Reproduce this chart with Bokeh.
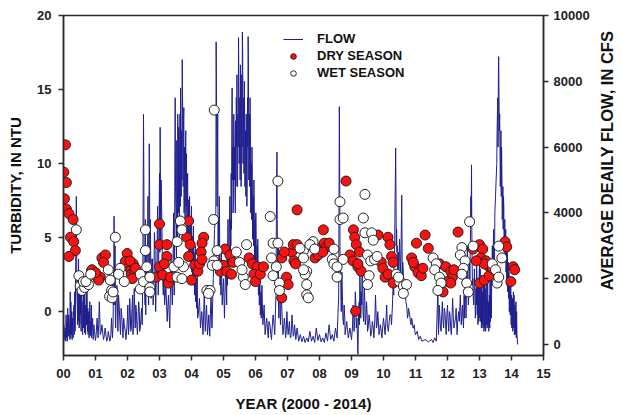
import math
from bokeh.plotting import figure
from bokeh.layouts import row
from bokeh.models import Range1d, LinearAxis, FixedTicker, Legend, LegendItem, Label
from bokeh.embed import file_html
from bokeh.resources import INLINE

# ---------------- data ----------------
year_ticks = list(range(0, 16))
year_labels = ["%02d" % t for t in year_ticks]
turb_ticks = [0, 5, 10, 15, 20]
flow_ticks = [0, 2000, 4000, 6000, 8000, 10000]
right_title = "AVERAGE DEAILY FLOW, IN CFS"

# daily flow, main readings (year after 2000, cfs)
flow_year = [
    0.00, 0.03, 0.05, 0.08, 0.10, 0.13, 0.15, 0.18, 0.20, 0.23, 0.25, 0.28, 0.30, 0.33, 0.36, 0.40,
    0.42, 0.44, 0.47, 0.49, 0.52, 0.55, 0.58, 0.60, 0.63, 0.66, 0.70, 0.73, 0.75, 0.78, 0.80, 0.83,
    0.86, 0.90, 0.93, 0.97, 1.00, 1.05, 1.08, 1.12, 1.15, 1.20, 1.25, 1.30, 1.35, 1.40, 1.45, 1.50,
    1.53, 1.58, 1.60, 1.63, 1.67, 1.70, 1.74, 1.78, 1.82, 1.86, 1.90, 1.95, 2.00, 2.03, 2.07, 2.10,
    2.14, 2.17, 2.21, 2.24, 2.28, 2.31, 2.35, 2.38, 2.42, 2.46, 2.50, 2.52, 2.55, 2.58, 2.60, 2.63,
    2.65, 2.68, 2.70, 2.72, 2.75, 2.78, 2.82, 2.86, 2.90, 2.94, 2.98, 3.02, 3.04, 3.07, 3.10, 3.13,
    3.16, 3.20, 3.24, 3.28, 3.32, 3.36, 3.40, 3.44, 3.47, 3.49, 3.52, 3.55, 3.58, 3.61, 3.64, 3.67,
    3.71, 3.73, 3.76, 3.79, 3.82, 3.85, 3.88, 3.91, 3.94, 3.97, 4.00, 4.03, 4.06, 4.09, 4.12, 4.15,
    4.18, 4.21, 4.25, 4.28, 4.32, 4.36, 4.40, 4.43, 4.47, 4.50, 4.54, 4.57, 4.61, 4.64, 4.68, 4.72,
    4.77, 4.79, 4.82, 4.84, 4.87, 4.90, 4.93, 4.96, 5.00, 5.03, 5.07, 5.10, 5.14, 5.17, 5.20, 5.23,
    5.27, 5.30, 5.33, 5.36, 5.40, 5.43, 5.47, 5.50, 5.53, 5.56, 5.59, 5.62, 5.65, 5.68, 5.71, 5.74,
    5.77, 5.80, 5.83, 5.86, 5.89, 5.92, 5.95, 5.98, 6.01, 6.04, 6.07, 6.10, 6.13, 6.16, 6.20, 6.23,
    6.27, 6.30, 6.35, 6.40, 6.45, 6.50, 6.55, 6.60, 6.64, 6.67, 6.69, 6.72, 6.75, 6.78, 6.82, 6.86,
    6.90, 6.94, 6.98, 7.02, 7.06, 7.10, 7.14, 7.18, 7.22, 7.26, 7.30, 7.35, 7.40, 7.45, 7.50, 7.55,
    7.60, 7.65, 7.70, 7.75, 7.80, 7.85, 7.90, 7.95, 8.00, 8.05, 8.10, 8.15, 8.20, 8.25, 8.30, 8.35,
    8.40, 8.45, 8.50, 8.55, 8.60, 8.62, 8.64, 8.67, 8.70, 8.73, 8.77, 8.80, 8.85, 8.90, 8.95, 9.00,
    9.05, 9.08, 9.12, 9.15, 9.20, 9.22, 9.26, 9.29, 9.33, 9.36, 9.40, 9.43, 9.47, 9.50, 9.55, 9.60,
    9.65, 9.70, 9.75, 9.78, 9.82, 9.86, 9.90, 9.95, 10.00, 10.05, 10.10, 10.15, 10.20, 10.25, 10.30, 10.35,
    10.38, 10.41, 10.45, 10.50, 10.54, 10.57, 10.60, 10.63, 10.66, 10.70, 10.73, 10.77, 10.80, 10.84, 10.88, 10.92,
    10.96, 11.00, 11.05, 11.10, 11.15, 11.20, 11.30, 11.40, 11.50, 11.55, 11.60, 11.65, 11.70, 11.72, 11.76, 11.80,
    11.84, 11.88, 11.92, 11.96, 12.00, 12.04, 12.08, 12.12, 12.16, 12.20, 12.25, 12.30, 12.35, 12.40, 12.43, 12.47,
    12.50, 12.55, 12.58, 12.62, 12.65, 12.70, 12.75, 12.77, 12.80, 12.84, 12.88, 12.92, 12.96, 13.00, 13.04, 13.08,
    13.12, 13.16, 13.20, 13.25, 13.30, 13.35, 13.40, 13.45, 13.50, 13.55, 13.60, 13.63, 13.66, 13.69, 13.72, 13.75,
    13.78, 13.82, 13.86, 13.90, 13.94, 13.98, 14.02, 14.06, 14.10, 14.14, 14.17, 14.19,
]
flow_cfs = [
    150, 300, 120, 900, 200, 1100, 250, 700, 150, 1300, 300, 800, 200, 1200, 400, 4500,
    1500, 600, 2600, 500, 1800, 400, 1200, 300, 1500, 350, 900, 2300, 400, 700, 200, 1000,
    250, 600, 150, 400, 120, 800, 200, 1300, 300, 600, 150, 500, 100, 400, 100, 800,
    200, 3900, 1200, 500, 1800, 400, 1200, 300, 900, 200, 600, 150, 900, 300, 1400, 400,
    1100, 300, 1700, 500, 1000, 300, 1300, 400, 800, 600, 7000, 2500, 1200, 2800, 1500, 3300,
    1800, 6100, 2500, 3200, 1800, 2600, 1500, 3000, 2000, 4200, 3000, 6600, 3000, 4000, 2000, 2800,
    1200, 1800, 700, 1500, 500, 2600, 1200, 4000, 2500, 7500, 3500, 5000, 6000, 4500, 7000, 5500,
    8660, 6000, 7200, 5000, 6500, 4000, 5200, 3500, 4500, 3000, 4200, 2500, 3600, 2000, 3000, 1500,
    2200, 900, 1400, 500, 1000, 300, 1600, 400, 1200, 300, 900, 250, 1500, 500, 2000, 3500,
    9200, 5500, 7000, 3500, 4500, 2000, 2800, 1200, 2000, 800, 2500, 1200, 3800, 2000, 4500, 3000,
    7800, 4000, 6500, 4500, 7500, 5000, 9330, 6000, 8500, 5500, 9500, 6500, 8000, 5500, 7000, 5000,
    9360, 6000, 7500, 4500, 6000, 3500, 5000, 2800, 4000, 2200, 3200, 1500, 2500, 1000, 1800, 600,
    1200, 300, 800, 200, 600, 150, 900, 300, 1500, 5850, 2500, 1200, 2000, 600, 1200, 300,
    800, 200, 1000, 300, 700, 200, 900, 250, 600, 150, 500, 100, 300, 80, 250, 60,
    200, 80, 400, 100, 250, 60, 500, 120, 300, 80, 200, 60, 350, 100, 600, 150,
    300, 100, 500, 200, 1500, 7230, 3000, 1500, 2200, 800, 1200, 300, 700, 200, 500, 150,
    1200, 400, 1600, 500, -300, 900, 2200, 800, 2500, 1000, 1800, 600, 1300, 400, 900, 250,
    700, 200, 1500, 500, 1000, 300, 600, 200, 800, 300, 1200, 400, 900, 600, 1800, 3000,
    5970, 3500, 2500, 3200, 2200, 4540, 2500, 1800, 2000, 1300, 1100, 900, 1000, 700, 800, 500,
    600, 300, 400, 150, 250, 100, 150, 80, 150, 60, 200, 100, 1700, 300, 900, 400,
    1300, 500, 1000, 300, 1200, 400, 900, 300, 1400, 500, 800, 300, 1000, 1500, 600, 1200,
    500, 2000, 800, 3000, 1200, 2000, 5460, 2500, 1500, 2300, 1000, 2000, 800, 2400, 1000, 2000,
    700, 1800, 600, 2200, 900, 1500, 3000, 2000, 4500, 6500, 8750, 7000, 5500, 6000, 4000, 4500,
    3000, 3500, 2000, 2500, 1200, 1800, 700, 1600, 400, 1300, 300, 0,
]

# extra daily flow readings in the busy periods
flow_year_b = [
    0.01, 0.04, 0.06, 0.07, 0.11, 0.12, 0.16, 0.19, 0.21, 0.22, 0.26, 0.27, 0.31, 0.34, 0.35, 0.37,
    0.38, 0.39, 0.41, 0.43, 0.45, 0.46, 0.48, 0.50, 0.51, 0.53, 0.54, 0.56, 0.57, 0.59, 0.61, 0.62,
    0.64, 0.65, 0.67, 0.68, 0.69, 0.71, 0.72, 0.74, 0.76, 0.77, 0.79, 0.81, 0.82, 0.84, 0.85, 0.87,
    0.88, 0.91, 0.95, 1.02, 1.10, 1.18, 1.28, 1.38, 1.48, 1.55, 1.56, 1.57, 1.59, 1.61, 1.62, 1.65,
    1.69, 1.72, 1.76, 1.80, 1.84, 1.88, 1.93, 1.98, 2.01, 2.05, 2.09, 2.12, 2.16, 2.19, 2.23, 2.26,
    2.29, 2.33, 2.37, 2.40, 2.44, 2.48, 2.51, 2.53, 2.56, 2.57, 2.61, 2.64, 2.66, 2.69, 2.71, 2.74,
    2.76, 2.80, 2.84, 2.88, 2.92, 2.96, 3.00, 3.01, 3.05, 3.09, 3.12, 3.42, 3.46, 3.48, 3.50, 3.53,
    3.54, 3.56, 3.57, 3.59, 3.60, 3.62, 3.63, 3.65, 3.66, 3.68, 3.69, 3.70, 3.72, 3.74, 3.75, 3.77,
    3.78, 3.80, 3.81, 3.83, 3.84, 3.86, 3.87, 3.89, 3.90, 3.92, 3.93, 3.95, 3.96, 3.98, 3.99, 4.01,
    4.02, 4.04, 4.05, 4.07, 4.08, 4.10, 4.11, 4.13, 4.14, 4.16, 4.17, 4.19, 4.76, 4.78, 4.80, 4.81,
    4.83, 4.85, 4.86, 4.88, 4.89, 4.91, 4.92, 5.11, 5.12, 5.15, 5.18, 5.21, 5.22, 5.24, 5.25, 5.26,
    5.28, 5.29, 5.31, 5.32, 5.34, 5.35, 5.37, 5.38, 5.39, 5.41, 5.42, 5.44, 5.45, 5.46, 5.48, 5.49,
    5.51, 5.52, 5.54, 5.55, 5.57, 5.58, 5.60, 5.61, 5.63, 5.64, 5.66, 5.67, 5.69, 5.70, 5.72, 5.73,
    5.75, 5.76, 5.78, 5.79, 5.81, 5.82, 5.84, 5.85, 5.87, 5.88, 5.90, 5.91, 5.93, 5.94, 5.96, 5.97,
    5.99, 6.00, 6.02, 6.03, 6.05, 6.06, 6.08, 6.09, 6.11, 6.12, 6.14, 6.15, 6.17, 6.18, 6.32, 6.38,
    6.42, 6.48, 6.52, 6.58, 6.62, 6.65, 6.66, 6.68, 6.70, 6.71, 6.73, 6.74, 6.77, 6.80, 6.84, 6.88,
    6.92, 6.96, 7.00, 7.04, 7.08, 7.12, 7.16, 7.20, 8.61, 8.63, 8.65, 8.66, 8.68, 8.69, 8.72, 8.75,
    8.79, 9.03, 9.07, 9.10, 9.14, 9.17, 9.24, 9.25, 9.28, 9.31, 9.32, 9.35, 9.38, 9.42, 9.45, 9.49,
    9.52, 9.58, 9.63, 9.68, 9.73, 9.77, 9.80, 9.84, 9.88, 9.93, 9.98, 10.03, 10.08, 10.12, 10.18, 10.23,
    10.28, 10.32, 10.33, 10.36, 10.37, 10.39, 10.40, 10.42, 10.43, 10.44, 10.47, 10.48, 10.52, 10.55, 10.56, 10.58,
    10.59, 10.62, 10.65, 10.68, 10.72, 10.75, 10.78, 10.82, 10.86, 10.90, 10.94, 10.98, 11.71, 11.74, 11.78, 11.82,
    11.86, 11.90, 11.94, 11.98, 12.02, 12.06, 12.10, 12.14, 12.18, 12.22, 12.27, 12.32, 12.37, 12.42, 12.45, 12.48,
    12.52, 12.53, 12.57, 12.60, 12.61, 12.64, 12.67, 12.68, 12.72, 12.73, 12.74, 12.76, 12.78, 12.79, 12.82, 12.83,
    12.86, 12.87, 12.89, 12.90, 12.91, 12.93, 12.94, 12.95, 12.97, 12.98, 12.99, 13.01, 13.02, 13.03, 13.05, 13.06,
    13.07, 13.09, 13.10, 13.11, 13.13, 13.14, 13.15, 13.17, 13.18, 13.19, 13.21, 13.22, 13.23, 13.24, 13.26, 13.27,
    13.28, 13.29, 13.31, 13.32, 13.33, 13.34, 13.36, 13.37, 13.38, 13.42, 13.44, 13.47, 13.48, 13.52, 13.54, 13.57,
    13.58, 13.59, 13.61, 13.62, 13.64, 13.65, 13.67, 13.68, 13.70, 13.71, 13.73, 13.74, 13.76, 13.77, 13.79, 13.80,
    13.81, 13.83, 13.84, 13.85, 13.87, 13.88, 13.89, 13.91, 13.92, 13.93, 13.95, 13.96, 13.97, 13.99, 14.00, 14.01,
    14.03, 14.04, 14.05, 14.07, 14.08, 14.09, 14.11, 14.12, 14.13, 14.15, 14.16, 14.18,
]
flow_cfs_b = [
    600, 200, 500, 100, 700, 100, 900, 300, 1600, 200, 1000, 150, 900, 300, 1600, 600,
    2500, 3200, 3000, 1200, 2000, 700, 1000, 2200, 600, 900, 1600, 700, 1900, 400, 1300, 500,
    700, 1700, 500, 1200, 300, 1600, 600, 1400, 1100, 300, 1000, 500, 1300, 300, 700, 1200,
    200, 800, 600, 300, 600, 400, 300, 200, 300, 600, 2000, 1200, 2500, 3000, 900, 1500,
    900, 1500, 700, 1100, 500, 800, 400, 500, 1200, 600, 900, 500, 1500, 600, 900, 1200,
    600, 800, 1000, 500, 1100, 2500, 5200, 1800, 3800, 900, 2400, 4500, 1200, 4800, 3800, 1400,
    2600, 1200, 3400, 1000, 2600, 1500, 5200, 2800, 5000, 2600, 1500, 2200, 1500, 5500, 4800, 2500,
    6200, 3000, 7000, 4000, 6600, 3200, 5800, 4200, 7800, 4500, 6500, 5000, 7500, 4800, 6800, 4000,
    6000, 3800, 5500, 4200, 5800, 3200, 4800, 3000, 4400, 2800, 3900, 2600, 3800, 2400, 3500, 2200,
    3300, 2000, 3000, 1800, 2800, 1500, 2400, 1300, 2000, 1100, 1700, 800, 4000, 8000, 4200, 6000,
    2800, 3800, 2500, 3200, 1800, 2500, 1500, 2800, 1800, 2600, 3400, 2500, 3800, 5200, 3500, 6500,
    5000, 6000, 4500, 7000, 5000, 6000, 4000, 6800, 4800, 6000, 8200, 4800, 7000, 6000, 8000, 5500,
    7500, 5000, 7000, 4800, 8200, 6000, 8800, 5500, 7500, 5200, 7000, 4800, 6500, 4500, 6000, 4200,
    7500, 6000, 8500, 5000, 7000, 4800, 6500, 4000, 5500, 3800, 5000, 3200, 4500, 3000, 4200, 2600,
    3800, 2400, 3300, 2000, 3000, 1800, 2600, 1500, 2300, 1200, 2000, 900, 1600, 800, 500, 400,
    700, 300, 500, 600, 900, 3500, 4800, 3800, 1800, 3000, 800, 1500, 1000, 1500, 600, 500,
    600, 400, 600, 500, 300, 400, 600, 300, 4500, 5500, 2200, 2500, 1000, 1800, 1300, 600,
    800, 500, 800, 700, 1100, 800, 1300, 600, 1500, 1600, 1200, 1800, 700, 1200, 800, 900,
    500, 600, 400, 500, 800, 900, 600, 700, 400, 400, 600, 500, 800, 600, 700, 900,
    1200, 1500, 2500, 4200, 5000, 4500, 3000, 2800, 3000, 2000, 2800, 2000, 2600, 3000, 3800, 3000,
    2000, 2200, 1500, 1600, 1200, 800, 1100, 900, 600, 700, 500, 400, 800, 1200, 500, 900,
    700, 1100, 600, 900, 700, 1000, 500, 800, 900, 600, 1100, 700, 700, 900, 1000, 800,
    1500, 800, 1200, 2400, 1500, 2000, 1500, 2500, 3500, 4500, 3800, 3500, 1800, 2000, 1200, 1800,
    1500, 800, 1700, 1200, 2500, 900, 2000, 600, 1800, 700, 2200, 800, 2300, 700, 1800, 500,
    2100, 600, 1600, 500, 1900, 400, 1500, 500, 1700, 400, 2000, 600, 1400, 500, 1800, 600,
    1300, 400, 1500, 500, 2000, 700, 2500, 800, 1800, 2200, 3500, 2600, 4000, 5000, 5500, 7500,
    6000, 8200, 7500, 6500, 6000, 4800, 6500, 4500, 5200, 3800, 4800, 3500, 4200, 2800, 3800, 2500,
    3200, 2200, 3000, 1800, 2800, 1600, 2400, 1400, 2200, 1000, 2000, 900, 1700, 600, 1500, 500,
    1400, 400, 1300, 500, 1500, 300, 1200, 300, 1100, 200, 1000, 200,
]

dry_year = [
    0.06, 0.01, 0.09, 0.03, 0.09, 0.17, 0.30, 0.22, 0.32, 0.37, 0.17, 0.89, 0.95, 1.05, 1.15, 1.10,
    1.20, 1.31, 1.25, 1.00, 1.99, 1.93, 2.05, 2.10, 2.18, 2.12, 2.22, 2.15, 2.08, 2.25, 3.00, 3.00,
    3.23, 3.23, 3.00, 2.90, 3.10, 3.28, 3.34, 3.15, 3.91, 3.85, 3.96, 3.91, 4.00, 4.10, 4.20, 4.25,
    4.38, 4.33, 4.30, 4.33, 5.05, 5.20, 4.79, 4.90, 5.00, 5.10, 5.25, 5.30, 5.80, 5.90, 6.05, 5.95,
    6.00, 6.15, 6.25, 6.82, 6.97, 7.02, 7.13, 7.18, 7.20, 7.25, 7.30, 7.30, 6.82, 6.90, 8.12, 7.86,
    7.96, 8.05, 8.15, 8.20, 8.30, 8.10, 8.83, 9.06, 9.10, 9.15, 9.25, 8.95, 9.05, 9.20, 9.30, 9.20,
    9.13, 9.83, 10.14, 10.20, 10.25, 9.93, 9.98, 10.05, 10.15, 10.30, 10.30, 11.30, 11.03, 11.40, 10.88, 10.98,
    11.08, 11.18, 11.23, 10.93, 11.86, 11.75, 11.95, 12.10, 12.15, 12.00, 12.10, 12.20, 12.33, 12.80, 13.00, 13.10,
    13.05, 13.20, 13.30, 13.00, 13.15, 13.30, 13.40, 13.15, 12.90, 13.80, 13.85, 14.05, 14.10, 13.98,
]
dry_ntu = [
    11.25, 9.4, 8.7, 7.6, 6.9, 6.6, 6.2, 5.0, 4.7, 4.1, 3.7, 2.8, 2.5, 2.3, 2.3, 2.1,
    3.6, 3.8, 3.3, 2.6, 3.9, 3.35, 3.0, 2.8, 3.2, 2.5, 2.7, 2.2, 3.4, 2.9, 5.9, 4.5,
    4.5, 3.7, 3.0, 2.3, 2.45, 1.9, 2.3, 3.2, 6.1, 5.0, 4.5, 3.7, 2.1, 3.1, 2.7, 3.2,
    5.0, 4.6, 4.0, 3.5, 4.2, 3.8, 3.25, 2.7, 3.1, 2.7, 2.5, 3.3, 3.6, 3.2, 3.0, 2.5,
    2.0, 2.5, 3.0, 0.9, 2.3, 1.8, 4.0, 4.5, 3.4, 3.2, 4.5, 6.85, 3.6, 4.0, 5.5, 3.6,
    3.8, 4.3, 4.6, 4.3, 4.6, 4.0, 8.8, 5.5, 5.0, 4.5, 4.0, 3.8, 3.4, 3.0, 2.7, 3.2,
    0.0, 5.15, 5.0, 4.5, 3.7, 3.3, 2.9, 2.3, 2.5, 1.9, 3.3, 5.15, 4.6, 4.25, 3.6, 3.0,
    2.6, 2.4, 2.9, 3.3, 1.3, 3.2, 3.0, 2.7, 2.3, 2.0, 1.9, 2.8, 5.35, 4.2, 4.5, 4.2,
    3.6, 3.4, 3.0, 1.9, 2.1, 2.4, 2.9, 3.2, 3.4, 4.7, 4.35, 3.0, 2.8, 2.0,
]

wet_year = [
    0.40, 0.48, 0.52, 0.58, 0.66, 0.62, 0.78, 0.70, 0.85, 1.40, 1.46, 1.50, 1.44, 1.52, 1.55, 1.62,
    1.77, 1.72, 1.90, 2.40, 2.40, 2.50, 2.70, 2.70, 2.56, 2.56, 2.70, 2.60, 3.65, 3.70, 3.55, 3.45,
    3.55, 3.70, 3.75, 3.60, 4.71, 4.69, 4.48, 4.58, 4.53, 4.70, 4.80, 4.65, 4.80, 5.40, 5.50, 5.62,
    5.68, 5.72, 5.58, 6.46, 6.70, 6.55, 6.70, 6.50, 6.65, 6.55, 6.75, 6.75, 7.50, 7.50, 7.60, 7.60,
    7.60, 7.39, 7.55, 7.65, 7.50, 7.80, 7.70, 7.85, 8.45, 8.40, 8.45, 8.55, 8.64, 8.64, 8.74, 8.74,
    8.55, 9.42, 9.37, 9.42, 9.63, 9.68, 9.50, 9.60, 9.55, 9.50, 9.72, 9.80, 10.40, 10.50, 10.62, 10.72,
    10.62, 10.47, 11.55, 11.65, 11.60, 11.75, 11.80, 11.70, 12.45, 12.40, 12.55, 12.50, 12.45, 12.60, 12.65, 12.69,
    12.80, 13.40, 13.50, 13.55, 13.60, 13.70, 13.60,
]
wet_ntu = [
    5.5, 2.4, 1.7, 1.4, 1.6, 2.0, 1.8, 2.0, 2.5, 2.8, 2.1, 1.4, 1.0, 0.9, 1.3, 5.0,
    2.9, 2.5, 2.0, 2.5, 1.5, 2.0, 1.6, 1.3, 5.5, 4.1, 2.3, 3.0, 6.1, 5.5, 4.7, 3.0,
    2.3, 2.2, 3.0, 3.3, 13.6, 6.2, 1.4, 1.4, 1.2, 3.4, 4.1, 3.1, 3.1, 4.0, 3.3, 2.3,
    1.8, 4.5, 2.8, 6.4, 8.8, 4.6, 4.6, 3.6, 3.0, 2.4, 1.9, 1.4, 4.1, 3.6, 2.7, 1.8,
    1.1, 4.25, 2.5, 0.9, 2.8, 4.7, 4.5, 4.2, 4.2, 3.5, 3.2, 2.3, 7.4, 6.2, 6.3, 3.5,
    3.0, 7.9, 6.3, 5.3, 5.3, 4.8, 3.8, 3.4, 2.4, 1.8, 3.5, 3.7, 2.5, 2.0, 1.7, 1.8,
    1.2, 2.3, 3.6, 3.2, 2.8, 2.3, 1.9, 1.4, 4.3, 3.8, 3.4, 2.9, 2.5, 1.9, 1.3, 6.05,
    4.4, 3.2, 2.8, 1.9, 4.4, 3.6, 2.3,
]

# merge the two sets of flow readings in time order
flow_pairs = sorted(zip(flow_year + flow_year_b, flow_cfs + flow_cfs_b))
fx = [a for a, b in flow_pairs]
fy = [b for a, b in flow_pairs]

# ---------------- figure ----------------
FONT = "Liberation Sans"
AX = "#2a2a2a"

p = figure(width=592, height=415, output_backend="svg", toolbar_location=None,
           x_range=Range1d(0, 15), y_range=Range1d(-3, 20),
           min_border_left=63, min_border_right=48, min_border_top=15, min_border_bottom=60)
p.extra_y_ranges = {"flow": Range1d(-335, 10000)}
p.xgrid.visible = False
p.ygrid.visible = False
p.outline_line_color = AX
p.outline_line_width = 1.5
p.background_fill_color = "white"
p.border_fill_color = "white"

flow_r = p.line(fx, fy, y_range_name="flow", line_color="#1f1f8f", line_width=1)
dry_r = p.scatter(dry_year, dry_ntu, size=10, fill_color="#ff1010", line_color="#222222", line_width=1)
wet_r = p.scatter(wet_year, wet_ntu, size=10, fill_color="white", line_color="#222222", line_width=1)

def style_axis(ax, title):
    if title:
        ax.axis_label = title
    ax.axis_label_text_font = FONT
    ax.axis_label_text_font_style = "bold"
    ax.axis_label_text_font_size = "15px"
    ax.axis_label_text_color = "#111111"
    ax.major_label_text_font = FONT
    ax.major_label_text_font_style = "bold"
    ax.major_label_text_font_size = "13px"
    ax.major_label_text_color = "#222222"
    ax.axis_line_color = AX
    ax.axis_line_width = 1.5
    ax.major_tick_line_color = AX
    ax.major_tick_line_width = 1.5
    ax.major_tick_out = 5
    ax.major_tick_in = 0
    ax.minor_tick_line_color = None

xa = p.xaxis[0]
style_axis(xa, "YEAR (2000 - 2014)")
xa.ticker = FixedTicker(ticks=year_ticks)
xa.major_label_overrides = {t: l for t, l in zip(year_ticks, year_labels)}
xa.major_label_standoff = 8
xa.axis_label_standoff = 14

ya = p.yaxis[0]
style_axis(ya, "TURBIDITY, IN NTU")
ya.ticker = FixedTicker(ticks=turb_ticks)
ya.major_label_standoff = 7
ya.axis_label_standoff = 10

ra = LinearAxis(y_range_name="flow")
style_axis(ra, None)
ra.ticker = FixedTicker(ticks=flow_ticks)
ra.major_label_standoff = 5
p.add_layout(ra, "right")

legend = Legend(items=[
    LegendItem(label="FLOW", renderers=[flow_r]),
    LegendItem(label="DRY SEASON", renderers=[dry_r]),
    LegendItem(label="WET SEASON", renderers=[wet_r]),
], location=(220, 275))
legend.border_line_color = None
legend.background_fill_alpha = 0
legend.padding = 0
legend.margin = 0
legend.spacing = 2
legend.glyph_height = 14
legend.glyph_width = 20
legend.label_standoff = 14
legend.label_text_font = FONT
legend.label_text_font_style = "bold"
legend.label_text_font_size = "13px"
legend.label_text_color = "#111111"
p.add_layout(legend)

# narrow strip on the right holding the right-hand axis title (reads bottom to top)
side = figure(width=30, height=415, output_backend="svg", toolbar_location=None,
              x_range=Range1d(0, 30), y_range=Range1d(0, 415),
              x_axis_type=None, y_axis_type=None,
              min_border_left=0, min_border_right=0, min_border_top=0, min_border_bottom=0)
side.xgrid.visible = False
side.ygrid.visible = False
side.outline_line_color = None
side.background_fill_color = "white"
side.border_fill_color = "white"
side.add_layout(Label(x=14, y=238, text=right_title, angle=math.pi / 2,
                      text_align="center", text_baseline="middle",
                      text_font=FONT, text_font_style="bold", text_font_size="16.5px",
                      text_color="#111111"))

layout = row(p, side, spacing=0)
open("out.html", "w").write(file_html(layout, INLINE))
